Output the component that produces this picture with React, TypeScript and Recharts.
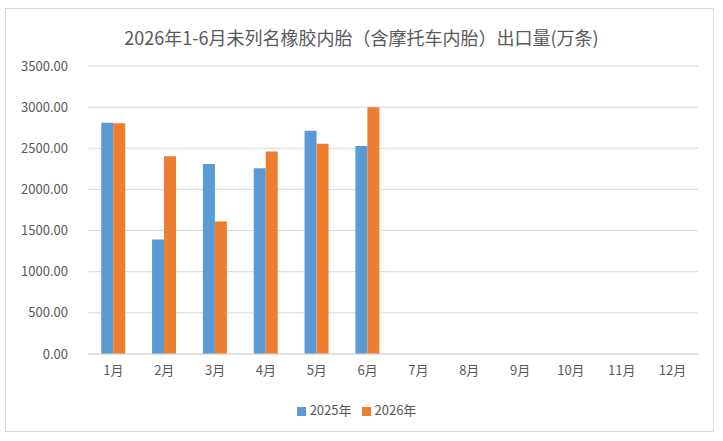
// 未列名橡胶内胎出口量 — 2025 vs 2026 按月柱状图
import { Bar, BarChart, CartesianGrid, Legend, XAxis, YAxis } from "recharts";

const months = ["1月", "2月", "3月", "4月", "5月", "6月", "7月", "8月", "9月", "10月", "11月", "12月"];
const exports2025: (number | null)[] = [2810, 1390, 2310, 2256, 2712, 2529, null, null, null, null, null, null];
const exports2026: (number | null)[] = [2805, 2402, 1610, 2460, 2554, 3000, null, null, null, null, null, null];
const yTicks = [0, 500, 1000, 1500, 2000, 2500, 3000, 3500];

const TEXT = "#595959";
const FONT = "'Noto Sans CJK SC', 'Noto Sans', sans-serif";

const rows = months.map((m, i) => ({ month: m, y2025: exports2025[i], y2026: exports2026[i] }));

export default function App() {
  return (
    <div style={{ position: "absolute", left: 0, top: 0, width: 723, height: 441, background: "#fff", fontFamily: FONT }}>
      <div
        style={{
          position: "absolute",
          left: 5,
          top: 8,
          width: 707,
          height: 422,
          border: "1px solid #d9d9d9",
        }}
      />
      <div
        style={{
          position: "absolute",
          left: 0,
          top: 24,
          width: 723,
          textAlign: "center",
          fontSize: 18,
          color: TEXT,
          lineHeight: "26px",
        }}
      >
        2026年1-6月未列名橡胶内胎（含摩托车内胎）出口量(万条)
      </div>
      <BarChart
        width={723}
        height={441}
        data={rows}
        margin={{ top: 66, right: 25, left: 0, bottom: 38 }}
        barCategoryGap="26%"
        barGap={0}
        style={{ position: "absolute", left: 0, top: 0 }}
      >
        <CartesianGrid stroke="#d9d9d9" vertical={false} />
        <XAxis
          dataKey="month"
          stroke="#d9d9d9"
          tickLine={false}
          tickMargin={6}
          tick={{ fill: TEXT, fontSize: 13, fontFamily: FONT }}
        />
        <YAxis
          domain={[0, 3500]}
          ticks={yTicks}
          width={88}
          axisLine={false}
          tickLine={false}
          tickMargin={14}
          tickFormatter={(v: number) => v.toFixed(2)}
          tick={{ fill: TEXT, fontSize: 13, fontFamily: FONT }}
        />
        <Legend
          iconType="square"
          iconSize={9}
          wrapperStyle={{ top: 400, left: 0, width: 723, fontSize: 13, fontFamily: FONT }}
          formatter={(value: string) => <span style={{ color: TEXT }}>{value}</span>}
        />
        <Bar dataKey="y2025" name="2025年" fill="#5B9BD5" isAnimationActive={false} />
        <Bar dataKey="y2026" name="2026年" fill="#ED7D31" isAnimationActive={false} />
      </BarChart>
    </div>
  );
}
